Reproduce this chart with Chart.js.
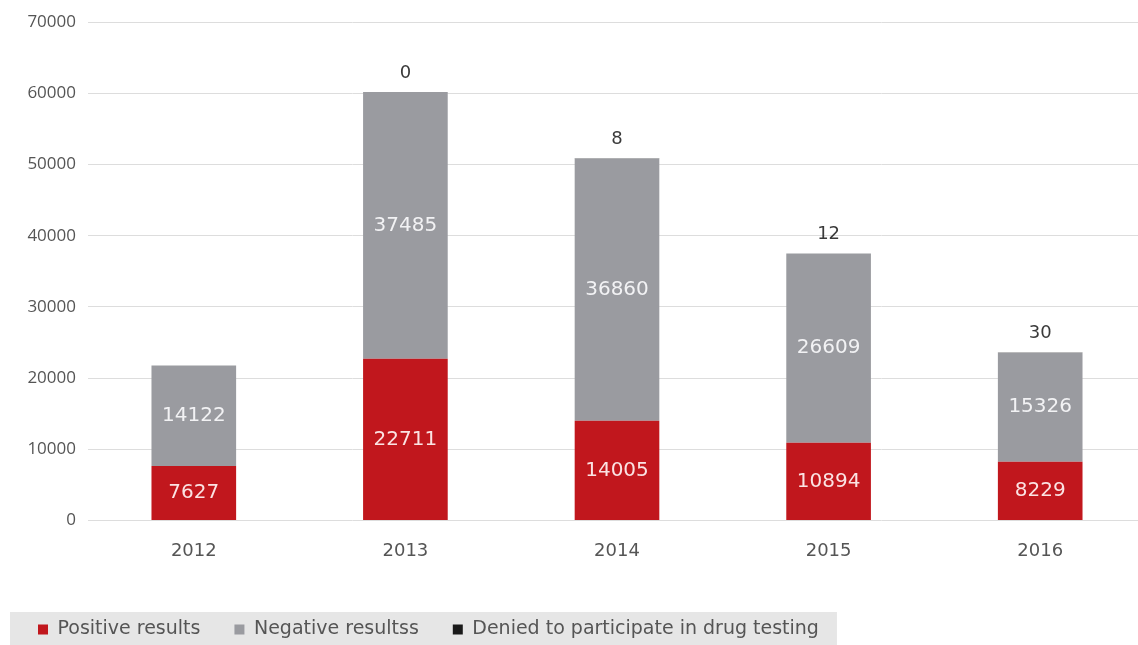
<!DOCTYPE html>
<html>
<head>
<meta charset="utf-8">
<script src="https://cdn.jsdelivr.net/npm/chart.js@4.4.1/dist/chart.umd.min.js"></script>
<style>
  html, body { margin: 0; padding: 0; background: #ffffff; overflow: hidden; }
  #wrap { position: relative; width: 1146px; height: 649px; }
</style>
</head>
<body>
<div id="wrap"><canvas id="c"></canvas></div>
<script>
const categories = ['2012', '2013', '2014', '2015', '2016'];
const positiveResults = [7627, 22711, 14005, 10894, 8229];
const negativeResults = [14122, 37485, 36860, 26609, 15326];
const deniedTesting = [null, 0, 8, 12, 30];
const seriesNames = ['Positive results', 'Negative resultss', 'Denied to participate in drug testing'];
const yTicks = [0, 10000, 20000, 30000, 40000, 50000, 60000, 70000];

const FONT = 'DejaVu Sans';

const labelPlugin = {
  id: 'barLabels',
  afterDatasetsDraw(chart) {
    const ctx = chart.ctx;
    ctx.save();
    ctx.textAlign = 'center';
    ctx.textBaseline = 'middle';
    [0, 1].forEach(di => {
      const meta = chart.getDatasetMeta(di);
      meta.data.forEach((bar, i) => {
        const v = chart.data.datasets[di].data[i];
        if (v == null) return;
        const y = (bar.y + bar.base) / 2;
        ctx.font = '20px ' + FONT;
        ctx.fillStyle = di === 0 ? '#fbe3e3' : '#f2f2f4';
        ctx.fillText(String(v), bar.x, y);
      });
    });
    const meta2 = chart.getDatasetMeta(2);
    meta2.data.forEach((bar, i) => {
      const v = chart.data.datasets[2].data[i];
      if (v == null) return;
      ctx.font = '18px ' + FONT;
      ctx.fillStyle = '#3a3a3a';
      ctx.fillText(String(v), bar.x, Math.min(bar.y, bar.base) - 19);
    });
    ctx.restore();
  }
};

const legendBg = {
  id: 'legendBg',
  beforeDraw(chart) {
    const lg = chart.legend;
    if (!lg || !lg.legendHitBoxes || !lg.legendHitBoxes.length) return;
    const hb = lg.legendHitBoxes;
    const last = hb[hb.length - 1];
    const ctx = chart.ctx;
    ctx.save();
    ctx.fillStyle = '#e6e6e6';
    const left = 10;
    const right = last.left + last.width + 18;
    const top = hb[0].top - 8;
    ctx.fillRect(left, top, right - left, chart.height - top);
    ctx.restore();
  }
};

new Chart(document.getElementById('c'), {
  type: 'bar',
  data: {
    labels: categories,
    datasets: [
      { label: seriesNames[0], data: positiveResults, backgroundColor: '#c1171d', barPercentage: 0.4, categoryPercentage: 1.0 },
      { label: seriesNames[1], data: negativeResults, backgroundColor: '#9a9ba0', barPercentage: 0.4, categoryPercentage: 1.0 },
      { label: seriesNames[2], data: deniedTesting, backgroundColor: '#1a1a1a', barPercentage: 0.4, categoryPercentage: 1.0 }
    ]
  },
  options: {
    responsive: true,
    maintainAspectRatio: false,
    animation: false,
    layout: { padding: { left: 4, right: 0, top: 16, bottom: 0 } },
    plugins: {
      legend: {
        position: 'bottom',
        align: 'start',
        labels: {
          boxWidth: 10, boxHeight: 10, padding: 34,
          color: '#555555',
          font: { family: FONT, size: 19 }
        }
      },
      tooltip: { enabled: false }
    },
    scales: {
      x: {
        stacked: true,
        grid: { display: false, drawTicks: false },
        border: { display: false },
        afterFit(axis) { axis.height += 4; },
        ticks: { color: '#555555', font: { family: FONT, size: 18 }, padding: 20 }
      },
      y: {
        stacked: true,
        min: 0, max: 70000,
        afterBuildTicks(axis) { axis.ticks = yTicks.map(v => ({ value: v })); },
        afterFit(axis) { axis.width = 84; },
        grid: { color: '#dddddd', lineWidth: 1, drawTicks: false },
        border: { display: false },
        ticks: {
          color: '#555555', font: { family: 'Open Sans', size: 17 }, padding: 12,
          callback: (v) => String(v)
        }
      }
    }
  },
  plugins: [legendBg, labelPlugin]
});
</script>
</body>
</html>
